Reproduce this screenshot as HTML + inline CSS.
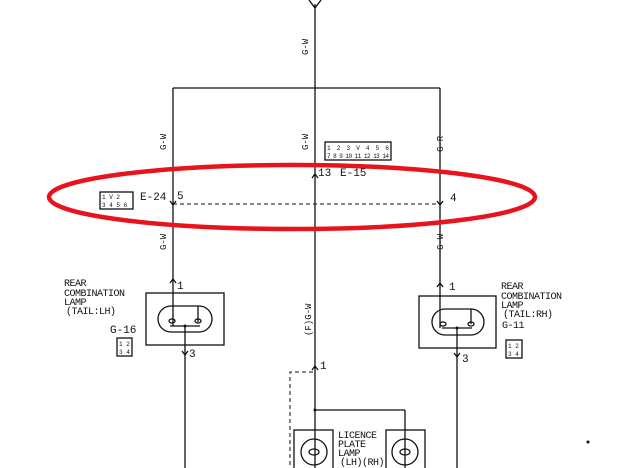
<!DOCTYPE html>
<html><head><style>
html,body{margin:0;padding:0;background:#fff;}
svg{display:block;}
text{font-family:"Liberation Mono",monospace;fill:#111;}
</style></head><body>
<svg width="620" height="468" viewBox="0 0 620 468" xmlns="http://www.w3.org/2000/svg">
<g stroke="#111" stroke-width="1.3" fill="none">
<line x1="315" y1="4" x2="315" y2="468"/>
<polyline points="309,0 315,8 321,0"/>
<line x1="173" y1="88" x2="440" y2="88"/>
<line x1="173" y1="88" x2="173" y2="326"/>
<line x1="440" y1="88" x2="440" y2="328"/>
<line x1="185" y1="326" x2="185" y2="468"/>
<line x1="457" y1="328" x2="457" y2="468"/>
<line x1="173" y1="204" x2="440" y2="204" stroke-dasharray="4,3" stroke-width="1"/>
<rect x="146" y="293" width="78" height="52"/>
<rect x="158" y="306" width="54" height="26" rx="13"/>
<line x1="198" y1="306" x2="198" y2="322"/>
<line x1="170" y1="326" x2="200" y2="326"/>
<ellipse cx="172" cy="321" rx="3" ry="2"/><ellipse cx="198" cy="321" rx="3" ry="2"/>
<rect x="419" y="296" width="77" height="52"/>
<rect x="432" y="309" width="52" height="26" rx="13"/>
<line x1="471" y1="309" x2="471" y2="324"/>
<line x1="442" y1="328" x2="472" y2="328"/>
<ellipse cx="443" cy="324" rx="3" ry="2"/><ellipse cx="471" cy="324" rx="3" ry="2"/>
<line x1="315" y1="410" x2="405" y2="410"/>
<line x1="405" y1="410" x2="405" y2="468"/>
<rect x="294" y="430" width="39" height="40"/>
<rect x="386" y="430" width="39" height="40"/>
<circle cx="314" cy="452" r="13"/><circle cx="405" cy="452" r="13"/>
<ellipse cx="314" cy="452" rx="5" ry="3"/><ellipse cx="405" cy="452" rx="5" ry="3"/>
<polyline points="313,372 290,372 290,468" stroke-dasharray="4,3" stroke-width="1"/>
<polyline points="170,283 173,279 176,283"/><polyline points="182,351 185,355 188,351"/>
<polyline points="437,287 440,283 443,287"/><polyline points="454,353 457,357 460,353"/>
<polyline points="170,201 173,205 176,201"/><polyline points="437,201 440,205 443,201"/>
<polyline points="312,178 315,174 318,178"/><polyline points="312,370 315,366 318,370"/>
<rect x="100" y="192" width="33" height="17"/>
<rect x="325" y="142" width="66" height="18"/>
<rect x="117" y="338" width="15" height="18"/>
<rect x="506" y="340" width="16" height="18"/>
</g>
<circle cx="185" cy="326" r="1.5" fill="#111"/><circle cx="457" cy="328" r="1.5" fill="#111"/>
<circle cx="315" cy="410" r="1.5" fill="#111"/>
<ellipse cx="292" cy="197" rx="243" ry="32" fill="none" stroke="#e8131c" stroke-width="4.5"/>
<g font-size="6">
<text x="102" y="199">1 V 2</text><text x="102" y="207">3 4 5 6</text>
<text x="327" y="150" textLength="62">1 2 3 V 4 5 6</text><text x="327" y="158" textLength="62">7 8 9 10 11 12 13 14</text>
<text x="119" y="346">1 2</text><text x="119" y="354">3 4</text>
<text x="508" y="348">1 2</text><text x="508" y="356">3 4</text>
</g>
<g font-size="11">
<text x="140" y="200">E-24</text><text x="177" y="199">5</text>
<text x="318" y="176">13</text><text x="340" y="176">E-15</text>
<text x="450" y="201">4</text>
<text x="177" y="289">1</text><text x="189" y="357">3</text>
<text x="449" y="290">1</text><text x="462" y="362">3</text>
<text x="320" y="369">1</text>
<text x="110" y="333">G-16</text>
</g>
<g font-size="10" style="letter-spacing:-0.5px">
<text x="64" y="286">REAR</text><text x="64" y="296">COMBINATION</text><text x="64" y="305">LAMP</text><text x="66" y="314">(TAIL:LH)</text>
<text x="501" y="289">REAR</text><text x="501" y="299">COMBINATION</text><text x="501" y="308">LAMP</text><text x="503" y="317">(TAIL:RH)</text><text x="502" y="328">G-11</text>
<text x="338" y="438">LICENCE</text><text x="338" y="447">PLATE</text><text x="338" y="456">LAMP</text><text x="340" y="465">(LH)(RH)</text>
</g>
<g font-size="9">
<text transform="translate(166,150) rotate(-90)">G-W</text>
<text transform="translate(166,250) rotate(-90)">G-W</text>
<text transform="translate(308,55) rotate(-90)">G-W</text>
<text transform="translate(308,150) rotate(-90)">G-W</text>
<text transform="translate(443,152) rotate(-90)">G-R</text>
<text transform="translate(443,250) rotate(-90)">G-W</text>
<text transform="translate(311,336) rotate(-90)">(F)G-W</text>
</g>
<circle cx="588" cy="442" r="1.5" fill="#111"/>
</svg>
</body></html>
